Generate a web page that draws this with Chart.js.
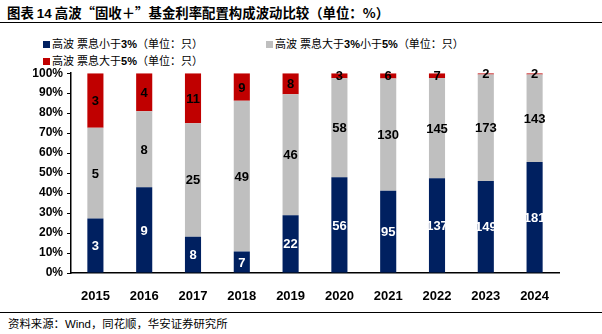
<!DOCTYPE html>
<html><head><meta charset="utf-8">
<script src="https://cdn.jsdelivr.net/npm/chart.js@4/dist/chart.umd.min.js"></script>
<style>
html,body{margin:0;padding:0;background:#fff;width:602px;height:334px;overflow:hidden;position:relative;font-family:"Liberation Sans","Noto Sans CJK SC",sans-serif;color:#000;}
#title{position:absolute;left:7px;top:3px;font-size:13.4px;font-weight:bold;white-space:nowrap;line-height:18px;font-family:"Noto Sans CJK SC",sans-serif;}
#title b{font-family:"Liberation Sans";}
#rule1{position:absolute;left:0;top:22px;width:602px;height:0;border-top:1.5px solid #000;}
.leg{position:absolute;font-size:11px;white-space:nowrap;line-height:14px;}
.leg b{font-weight:bold;font-family:"Liberation Sans";}
.sw{display:inline-block;width:7px;height:7px;margin-right:2px;vertical-align:0px;}
#rule2{position:absolute;left:0;top:312px;width:602px;height:0;border-top:1px solid #000;}
#src{position:absolute;left:8px;top:316px;font-size:11.4px;white-space:nowrap;line-height:16px;}
#wrap{position:absolute;left:0;top:62px;width:602px;height:240px;}
</style></head>
<body>
<div id="title">图表 <b>14</b> 高波“固收＋”基金利率配置构成波动比较（单位：%）</div>
<div id="rule1"></div>
<div id="leg1" class="leg" style="left:43px;top:37px;"><span class="sw" style="background:#002060"></span>高波 票息小于<b>3%</b>（单位：只）</div>
<div id="leg2" class="leg" style="left:266px;top:37px;"><span class="sw" style="background:#BFBFBF"></span>高波 票息大于<b>3%</b>小于<b>5%</b>（单位：只）</div>
<div id="leg3" class="leg" style="left:43px;top:54px;"><span class="sw" style="background:#C00000"></span>高波 票息大于<b>5%</b>（单位：只）</div>
<div id="wrap"><canvas id="c" width="602" height="240"></canvas></div>
<div id="rule2"></div>
<div id="src">资料来源：Wind，同花顺，华安证券研究所</div>
<script>
const years = ['2015','2016','2017','2018','2019','2020','2021','2022','2023','2024'];
const couponBelow3 = [3, 9, 8, 7, 22, 56, 95, 137, 149, 181];
const coupon3to5 = [5, 8, 25, 49, 46, 58, 130, 145, 173, 143];
const couponAbove5 = [3, 4, 11, 9, 8, 3, 6, 7, 2, 2];
const seriesNames = ['高波 票息小于3%（单位：只）','高波 票息大于3%小于5%（单位：只）','高波 票息大于5%（单位：只）'];

const counts = [couponBelow3, coupon3to5, couponAbove5];
const totals = years.map((_, i) => counts.reduce((s, a) => s + a[i], 0));
const share = arr => arr.map((v, i) => v / totals[i] * 100);
const colors = ['#002060', '#BFBFBF', '#C00000'];
const labelColors = ['#FFFFFF', '#000000', '#000000'];

const labelPlugin = {
  id: 'segLabels',
  afterDatasetsDraw(chart) {
    const ctx = chart.ctx;
    ctx.save();
    ctx.font = 'bold 13px "Liberation Sans", Arial, sans-serif';
    ctx.textAlign = 'center';
    ctx.textBaseline = 'middle';
    chart.data.datasets.forEach((ds, di) => {
      const meta = chart.getDatasetMeta(di);
      meta.data.forEach((bar, i) => {
        ctx.fillStyle = labelColors[di];
        ctx.fillText(String(counts[di][i]), bar.x, (bar.y + bar.base) / 2 + 1);
      });
    });
    ctx.restore();
  }
};

new Chart(document.getElementById('c'), {
  type: 'bar',
  data: {
    labels: years,
    datasets: counts.map((arr, k) => ({
      label: seriesNames[k],
      data: share(arr),
      backgroundColor: colors[k],
      borderWidth: 0,
      barPercentage: 0.33,
      categoryPercentage: 1
    }))
  },
  options: {
    responsive: false,
    animation: false,
    devicePixelRatio: 1,
    layout: { padding: { top: 10, right: 43, left: 0, bottom: 0 } },
    plugins: { legend: { display: false }, tooltip: { enabled: false } },
    scales: {
      x: {
        stacked: true,
        grid: { display: false },
        border: { display: true, color: '#000', width: 1.5 },
        ticks: { color: '#000', font: { family: '"Liberation Sans", Arial', size: 13, weight: 'bold' }, padding: 8, maxRotation: 0 },
        afterFit: s => { s.height = 29; }
      },
      y: {
        stacked: true,
        min: 0, max: 100,
        ticks: { stepSize: 10, color: '#000', callback: v => v + '%', font: { family: '"Liberation Sans", Arial', size: 12, weight: 'bold' }, padding: 4 },
        grid: { drawOnChartArea: false, drawTicks: true, tickLength: 4, color: '#000', lineWidth: 1 },
        border: { display: true, color: '#000', width: 1.5 },
        afterFit: s => { s.width = 71; }
      }
    }
  },
  plugins: [labelPlugin]
});
</script>
</body></html>
